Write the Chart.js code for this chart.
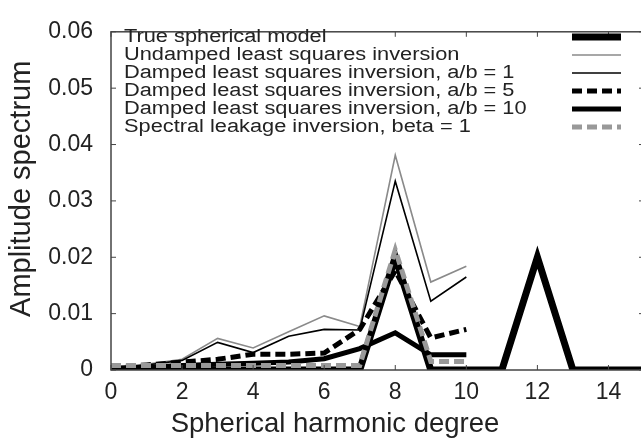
<!DOCTYPE html>
<html>
<head>
<meta charset="utf-8">
<script src="https://cdn.jsdelivr.net/npm/chart.js@4.4.1/dist/chart.umd.min.js"></script>
<style>
html, body { margin: 0; padding: 0; background: #fff; overflow: hidden; }
</style>
</head>
<body>
<canvas id="myChart" width="650" height="446"></canvas>
<script>
// DATOS
const degrees = [0, 1, 2, 3, 4, 5, 6, 7, 8, 9, 10];
const degreesTrue = [0, 1, 2, 3, 4, 5, 6, 7, 8, 9, 10, 11, 12, 13, 14, 15];
const trueModel = [0, 0, 0, 0, 0, 0, 0, 0, 0.02, 0, 0, 0, 0.02, 0, 0, 0];
const undamped = [0.0005, 0.0010, 0.0019, 0.0056, 0.0039, 0.0068, 0.0096, 0.0077, 0.0381, 0.0156, 0.0184];
const dampedAB1 = [0.0004, 0.0009, 0.0017, 0.0049, 0.0031, 0.0060, 0.0072, 0.0071, 0.0335, 0.0122, 0.0165];
const dampedAB5 = [0.0005, 0.0009, 0.0014, 0.0019, 0.0028, 0.0028, 0.0030, 0.0072, 0.0176, 0.0057, 0.0072];
const dampedAB10 = [0.0003, 0.0005, 0.0008, 0.0010, 0.0012, 0.0014, 0.0020, 0.0038, 0.0066, 0.0027, 0.0027];
const leakage = [0.0008, 0.0008, 0.0008, 0.0008, 0.0008, 0.0008, 0.0008, 0.0008, 0.0213, 0.0015, 0.0015];

const seriesLabels = [
  'True spherical model',
  'Undamped least squares inversion',
  'Damped least squares inversion, a/b = 1',
  'Damped least squares inversion, a/b = 5',
  'Damped least squares inversion, a/b = 10',
  'Spectral leakage inversion, beta = 1'
];

const pts = (xs, ys) => ys.map((v, i) => ({ x: xs[i], y: v }));

const FONT = '"Liberation Sans", Arial, sans-serif';
const TEXT = '#222';

// marco con ticks hacia adentro (estilo gnuplot)
const frame = {
  id: 'frame',
  afterDraw(chart) {
    const { ctx, chartArea: a, scales } = chart;
    ctx.save();
    ctx.strokeStyle = '#444';
    ctx.lineWidth = 1.5;
    ctx.setLineDash([]);
    ctx.strokeRect(a.left, a.top, a.right - a.left, a.bottom - a.top);
    ctx.lineWidth = 1;
    scales.x.ticks.forEach(t => {
      const px = scales.x.getPixelForValue(t.value);
      ctx.beginPath();
      ctx.moveTo(px, a.bottom); ctx.lineTo(px, a.bottom - 5);
      ctx.moveTo(px, a.top); ctx.lineTo(px, a.top + 5);
      ctx.stroke();
    });
    scales.y.ticks.forEach(t => {
      const py = scales.y.getPixelForValue(t.value);
      ctx.beginPath();
      ctx.moveTo(a.left, py); ctx.lineTo(a.left + 5, py);
      ctx.moveTo(a.right, py); ctx.lineTo(a.right - 5, py);
      ctx.stroke();
    });
    ctx.restore();
  }
};

// leyenda: texto a la izquierda, muestra de linea a la derecha
const keyBox = {
  id: 'keyBox',
  afterDraw(chart) {
    const ctx = chart.ctx;
    ctx.save();
    ctx.font = '18px ' + FONT;
    ctx.textBaseline = 'middle';
    ctx.fillStyle = TEXT;
    chart.data.datasets.forEach((ds, i) => {
      const y = 37 + i * 18;
      ctx.save();
      ctx.translate(124, y);
      ctx.scale(1.21, 1); // el texto original es mas ancho
      ctx.fillText(ds.label, 0, 0);
      ctx.restore();
      ctx.strokeStyle = ds.borderColor;
      ctx.lineWidth = ds.borderWidth;
      ctx.setLineDash(ds.borderDash || []);
      ctx.beginPath();
      ctx.moveTo(572, y);
      ctx.lineTo(621, y);
      ctx.stroke();
    });
    ctx.restore();
  }
};

const ctx = document.getElementById('myChart').getContext('2d');
const myChart = new Chart(ctx, {
  type: 'line',
  data: {
    datasets: [
      { label: seriesLabels[0], data: pts(degreesTrue, trueModel), borderColor: '#000', borderWidth: 7, order: 5 },
      { label: seriesLabels[1], data: pts(degrees, undamped), borderColor: '#8a8a8a', borderWidth: 1.6, order: 4 },
      { label: seriesLabels[2], data: pts(degrees, dampedAB1), borderColor: '#000', borderWidth: 1.6, order: 3 },
      { label: seriesLabels[3], data: pts(degrees, dampedAB5), borderColor: '#000', borderWidth: 5, borderDash: [10, 5], order: 2 },
      { label: seriesLabels[4], data: pts(degrees, dampedAB10), borderColor: '#000', borderWidth: 5, order: 1 },
      { label: seriesLabels[5], data: pts(degrees, leakage), borderColor: '#999', borderWidth: 5, borderDash: [10, 5], order: 0 }
    ]
  },
  options: {
    responsive: false,
    animation: false,
    devicePixelRatio: 1,
    layout: { padding: { top: 22, right: 6, left: 26, bottom: 0 } },
    elements: {
      point: { radius: 0 },
      line: { tension: 0, borderCapStyle: 'butt', borderJoinStyle: 'miter', fill: false }
    },
    plugins: {
      legend: { display: false },
      tooltip: { enabled: false },
      // el titulo del eje x va centrado en la figura, no en el area del grafico
      title: {
        display: true,
        position: 'bottom',
        text: 'Spherical harmonic degree',
        color: TEXT,
        font: { family: FONT, size: 27.5, weight: 'normal' },
        padding: { top: 0, bottom: 5 }
      }
    },
    scales: {
      x: {
        type: 'linear',
        min: 0,
        max: 15,
        grid: { display: false, drawTicks: false },
        border: { display: false },
        ticks: { stepSize: 2, includeBounds: false, padding: 9, color: TEXT, font: { family: FONT, size: 23 } },
        afterFit(s) { s.height = 38; }
      },
      y: {
        min: 0,
        max: 0.06,
        grid: { display: false, drawTicks: false },
        border: { display: false },
        ticks: { stepSize: 0.01, padding: 18, color: TEXT, font: { family: FONT, size: 23 } },
        // espacios al inicio para subir un poco el texto
        title: { display: true, text: '   Amplitude spectrum', color: TEXT, font: { family: FONT, size: 29 }, padding: { top: -21, bottom: 0 } },
        afterFit(s) { s.width = 85; }
      }
    }
  },
  plugins: [frame, keyBox]
});
</script>
</body>
</html>
